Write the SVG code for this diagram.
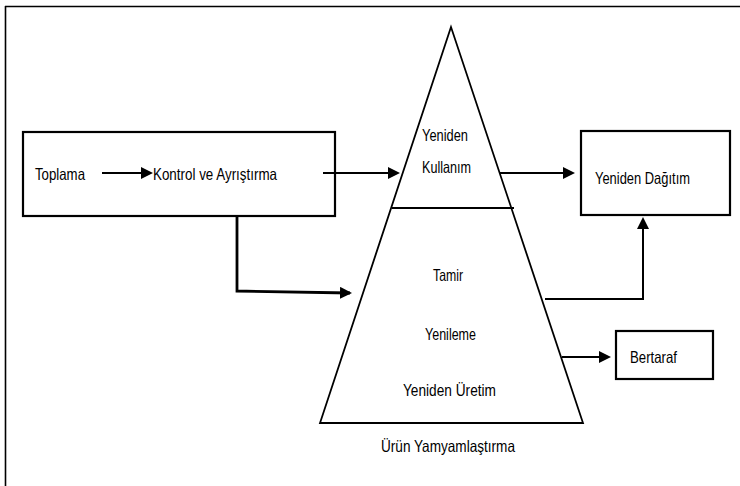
<svg xmlns="http://www.w3.org/2000/svg" width="740" height="486" viewBox="0 0 740 486">
<style>
.bg{fill:#ffffff}
.frame{stroke:#000;stroke-width:1.6;fill:none}
.box{fill:#fff;stroke:#000;stroke-width:2.2}
.tri{fill:#fff;stroke:#000;stroke-width:1.8;stroke-linejoin:miter}
.div{stroke:#000;stroke-width:2}
.lbl{font-family:"Liberation Sans",Arial,sans-serif;font-size:16.5px;fill:#000}
.con{fill:none;stroke:#000;stroke-width:2}
.thick{stroke-width:2.8}
</style>
<defs>
<marker id="arr" markerUnits="userSpaceOnUse" markerWidth="12" markerHeight="12" refX="10" refY="6" orient="auto">
<path d="M0,0 L12,6 L0,12 Z" fill="#000"/>
</marker>
</defs>
<rect class="bg" x="0" y="0" width="740" height="486"/>
<g id="frame">
<line class="frame" x1="5" y1="6.5" x2="740" y2="6.5"/>
<line class="frame" x1="5.5" y1="6" x2="5.5" y2="486"/>
</g>
<g id="collection">
<rect class="box" x="23" y="132" width="312" height="84"/>
<text class="lbl" x="35" y="180" textLength="50" lengthAdjust="spacingAndGlyphs">Toplama</text>
<text class="lbl" x="153" y="180" textLength="124" lengthAdjust="spacingAndGlyphs">Kontrol ve Ayrıştırma</text>
</g>
<g id="pyramid">
<polygon class="tri" points="451,27 320,423 583,423"/>
<line class="div" x1="392" y1="208" x2="514" y2="208"/>
<text class="lbl" x="422" y="141" textLength="46" lengthAdjust="spacingAndGlyphs">Yeniden</text>
<text class="lbl" x="422" y="173" textLength="49" lengthAdjust="spacingAndGlyphs">Kullanım</text>
<text class="lbl" x="433" y="281" textLength="30" lengthAdjust="spacingAndGlyphs">Tamir</text>
<text class="lbl" x="425" y="340" textLength="51" lengthAdjust="spacingAndGlyphs">Yenileme</text>
<text class="lbl" x="403" y="396" textLength="93" lengthAdjust="spacingAndGlyphs">Yeniden Üretim</text>
<text class="lbl" x="381" y="452" textLength="134" lengthAdjust="spacingAndGlyphs">Ürün Yamyamlaştırma</text>
</g>
<g id="redistribution">
<rect class="box" x="581" y="131" width="149" height="84"/>
<text class="lbl" x="595" y="184" textLength="95" lengthAdjust="spacingAndGlyphs">Yeniden Dağıtım</text>
</g>
<g id="disposal">
<rect class="box" x="616" y="331" width="97" height="48"/>
<text class="lbl" x="630" y="363" textLength="47" lengthAdjust="spacingAndGlyphs">Bertaraf</text>
</g>
<g id="connectors">
<path class="con" d="M102,173 L151,173" marker-end="url(#arr)"/>
<path class="con" d="M323,173 L398,173" marker-end="url(#arr)"/>
<path class="con" d="M500,173 L573,173" marker-end="url(#arr)"/>
<path class="con thick" d="M237,216 L237,291 L350,293" marker-end="url(#arr)"/>
<path class="con" d="M545,299 L643,299 L643,219" marker-end="url(#arr)"/>
<path class="con" d="M562,357 L609,357" marker-end="url(#arr)"/>
</g>
</svg>
